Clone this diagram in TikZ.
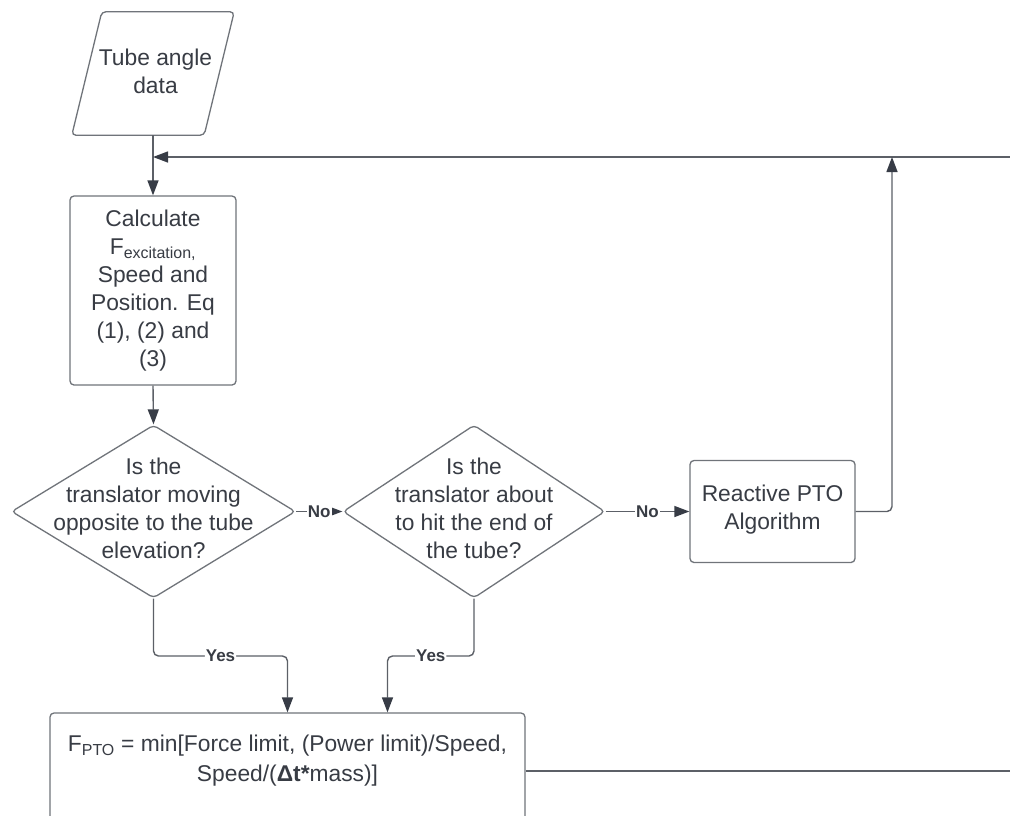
\documentclass[tikz,border=0pt]{standalone}
\usepackage{fontspec}
\setmainfont{Liberation Sans}
\usetikzlibrary{arrows.meta,shapes.geometric,calc}
\definecolor{ink}{RGB}{56,60,68}
\definecolor{edge}{RGB}{112,116,122}
\definecolor{wire}{RGB}{92,96,103}
\definecolor{tipc}{RGB}{55,60,70}
\newcommand{\bodyfont}{\fontsize{22.8}{28}\selectfont}
\newcommand{\widefont}{\fontsize{22.8}{30}\selectfont}
\newcommand{\tagfont}{\fontsize{17}{20}\selectfont\bfseries}

\begin{document}
\begin{tikzpicture}[x=1pt,y=-1pt,
  outline/.style={draw=edge, line width=1.3pt, rounded corners=4pt},
  boxshape/.style={outline, fill=white, inner sep=0pt, font=\bodyfont, text=ink, align=center},
  ghost/.style={inner sep=0pt, font=\bodyfont, text=ink, align=center},
  flow/.style={draw=wire, line width=1.4pt, -{Triangle[length=15pt,width=11pt,color=tipc]}},
  plain/.style={draw=wire, line width=1.4pt},
  tag/.style={fill=white, inner sep=1pt, font=\tagfont, text=ink},
  decision/.style={diamond, outline, inner sep=0pt}]

\clip (0,0) rectangle (1010,815);
\fill[white] (0,0) rectangle (1010,815);

% input: tube angle data (parallelogram)
\node[minimum width=132pt, minimum height=123pt, inner sep=0pt] (data) at (153,73.5) {};
\node[ghost] (datatext) at (155.5,71) {Tube angle\\data};
\draw[outline] ([xshift=15pt]data.north west) -- ([xshift=15pt]data.north east)
  -- ([xshift=-15pt]data.south east) -- ([xshift=-15pt]data.south west) -- cycle;

% calculation step
\node[boxshape, minimum width=166pt, minimum height=189pt] (calc) at (153,290.5)
  {Calculate\\F\textsubscript{excitation,}\\Speed and\\Position. Eq\\(1), (2) and\\(3)};

% decisions
\node[decision, minimum width=284pt, minimum height=173pt] (q1) at (153.5,511.5) {};
\node[ghost] (q1text) at (153.5,508) {Is the\\translator moving\\opposite to the tube\\elevation?};
\node[decision, minimum width=262pt, minimum height=173pt] (q2) at (474,511.5) {};
\node[ghost] (q2text) at (474,508) {Is the\\translator about\\to hit the end of\\the tube?};

% reactive control
\node[boxshape, minimum width=165pt, minimum height=102pt] (react) at (772.5,511.5) {};
\node[ghost] (reacttext) at (772.5,510) {Reactive PTO\\Algorithm};

% force limit box
\node[outline, fill=white, minimum width=475pt, minimum height=116pt, inner sep=0pt] (pto) at (287.5,771) {};
\node[ghost, font=\widefont] (ptotext) at (287.5,761)
  {F\textsubscript{PTO} = min[Force limit, (Power limit)/Speed,\\Speed/(\textbf{Δt*}mass)]};

% helper coordinates
\coordinate (join) at (153,157);
\coordinate (rise) at (892,157);
\coordinate (feedR) at (1010,157);
\coordinate (outB) at (1010,771);
\coordinate (ylev) at (0,656);
\coordinate (in2) at ([xshift=100pt]pto.north);

% connectors
\draw[flow] (data.south) -- (calc.north);
\draw[flow] (feedR) -- (join);
\draw[flow] (calc.south) -- (q1.north);
\draw[flow] (q1.east) -- node[tag]{No} (q2.west);
\draw[flow] (q2.east) -- node[tag]{No} (react.west);
\draw[flow, rounded corners=5pt] (react.east) -| (rise);
\draw[flow, rounded corners=5pt] (q1.south) |- node[tag, pos=0.75]{Yes} (ylev -| pto.north) -- (pto.north);
\draw[flow, rounded corners=5pt] (q2.south) |- node[tag, pos=0.75]{Yes} (ylev -| in2) -- (in2);
\draw[plain] (pto.east) -- (outB);
\end{tikzpicture}
\end{document}
